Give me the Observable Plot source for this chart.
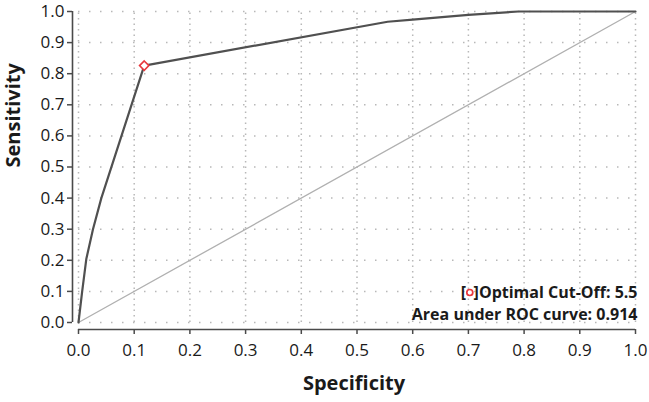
<!DOCTYPE html>
<html><head><meta charset="utf-8">
<script src="https://cdn.jsdelivr.net/npm/d3@7"></script>
<script src="https://cdn.jsdelivr.net/npm/@observablehq/plot@0.6"></script>
<style>
body{margin:0;background:#fff}
</style>
</head><body><div id="chart"></div>
<script>
// ROC curve
const specificity = [0, 0.0066, 0.014, 0.026, 0.041, 0.118, 0.555, 0.6, 0.7, 0.79, 1.0];
const sensitivity = [0, 0.1, 0.204, 0.3, 0.4, 0.826, 0.967, 0.974, 0.989, 1.0, 1.0];
const chanceX = [0, 1];
const chanceY = [0, 1];
const optimalSpecificity = [0.118];
const optimalSensitivity = [0.826];
const optimalCutOff = 5.5;
const aucValue = 0.914;
const tickValues = [0, 0.1, 0.2, 0.3, 0.4, 0.5, 0.6, 0.7, 0.8, 0.9, 1.0];
const xTitle = "Specificity";
const yTitle = "Sensitivity";

const curve = specificity.map((x, i) => ({x, y: sensitivity[i]}));
const chance = chanceX.map((x, i) => ({x, y: chanceY[i]}));
const optimal = optimalSpecificity.map((x, i) => ({x, y: optimalSensitivity[i]}));

const FONT = "'Open Sans', sans-serif";
const legendFont = `bold 16px ${FONT}`;
const line1 = `]Optimal Cut-Off: ${optimalCutOff}`;
const line2 = `Area under ROC curve: ${aucValue}`;
const ctx = document.createElement("canvas").getContext("2d");
ctx.font = legendFont;
const w1 = ctx.measureText(line1).width;

const textColor = "#1a1a1a";
const axisColor = "#4a4a4a";
const red = "#e8383d";

const plot = Plot.plot({
  width: 649, height: 402,
  marginLeft: 72, marginRight: 14, marginTop: 11, marginBottom: 73,
  insetLeft: 6, insetBottom: 7,
  x: {domain: [0, 1]},
  y: {domain: [0, 1]},
  style: {fontFamily: FONT, background: "#fff"},
  marks: [
    Plot.ruleX(tickValues, {x: d => d, y1: 0, y2: 1, stroke: "#b8b8b8", strokeWidth: 1.5, strokeDasharray: "1.5,4"}),
    Plot.ruleY(tickValues, {y: d => d, x1: 0, x2: 1, stroke: "#b8b8b8", strokeWidth: 1.5, strokeDasharray: "1.5,9.5"}),
    Plot.ruleX([0], {dx: -6, y1: 0, y2: 1, stroke: axisColor, strokeWidth: 1.6}),
    Plot.ruleY([0], {dy: 7, x1: 0, x2: 1, stroke: axisColor, strokeWidth: 1.6}),
    Plot.axisX(tickValues, {tickFormat: d => d.toFixed(1), tickSize: 5, tickPadding: 9, fontSize: 17, color: textColor, stroke: axisColor, strokeWidth: 1.5, label: null}),
    Plot.axisY(tickValues, {tickFormat: d => d.toFixed(1), tickSize: 5, tickPadding: 3, fontSize: 17, color: textColor, stroke: axisColor, strokeWidth: 1.5, label: null}),
    Plot.line(chance, {x: "x", y: "y", stroke: "#b0b0b0", strokeWidth: 1.3}),
    Plot.line(curve, {x: "x", y: "y", stroke: "#505050", strokeWidth: 2.2}),
    Plot.dot(optimal, {x: "x", y: "y", symbol: "diamond2", r: 4.2, stroke: red, fill: "#fff", strokeWidth: 1.6}),
    Plot.text([line1], {text: d => d, frameAnchor: "bottom-right", textAnchor: "end", dx: 2, dy: -32, fontSize: 16, fontWeight: "bold", fill: textColor}),
    Plot.dot([0], {frameAnchor: "bottom-right", dx: 2 - w1 - 3.8, dy: -37, symbol: "circle", r: 3, stroke: red, fill: "#fff", strokeWidth: 1.7}),
    Plot.text(["["], {text: d => d, frameAnchor: "bottom-right", textAnchor: "end", dx: 2 - w1 - 7.5, dy: -32, fontSize: 16, fontWeight: "bold", fill: textColor}),
    Plot.text([line2], {text: d => d, frameAnchor: "bottom-right", textAnchor: "end", dx: 2, dy: -10, fontSize: 16, fontWeight: "bold", fill: textColor}),
    Plot.text([xTitle], {text: d => d, frameAnchor: "bottom", dy: 60, fontSize: 20, fontWeight: "bold", fill: textColor}),
    Plot.text([yTitle], {text: d => d, frameAnchor: "left", dx: -59, dy: -3, rotate: -90, fontSize: 20, fontWeight: "bold", fill: textColor})
  ]
});
document.getElementById("chart").appendChild(plot);
</script>
</body></html>
